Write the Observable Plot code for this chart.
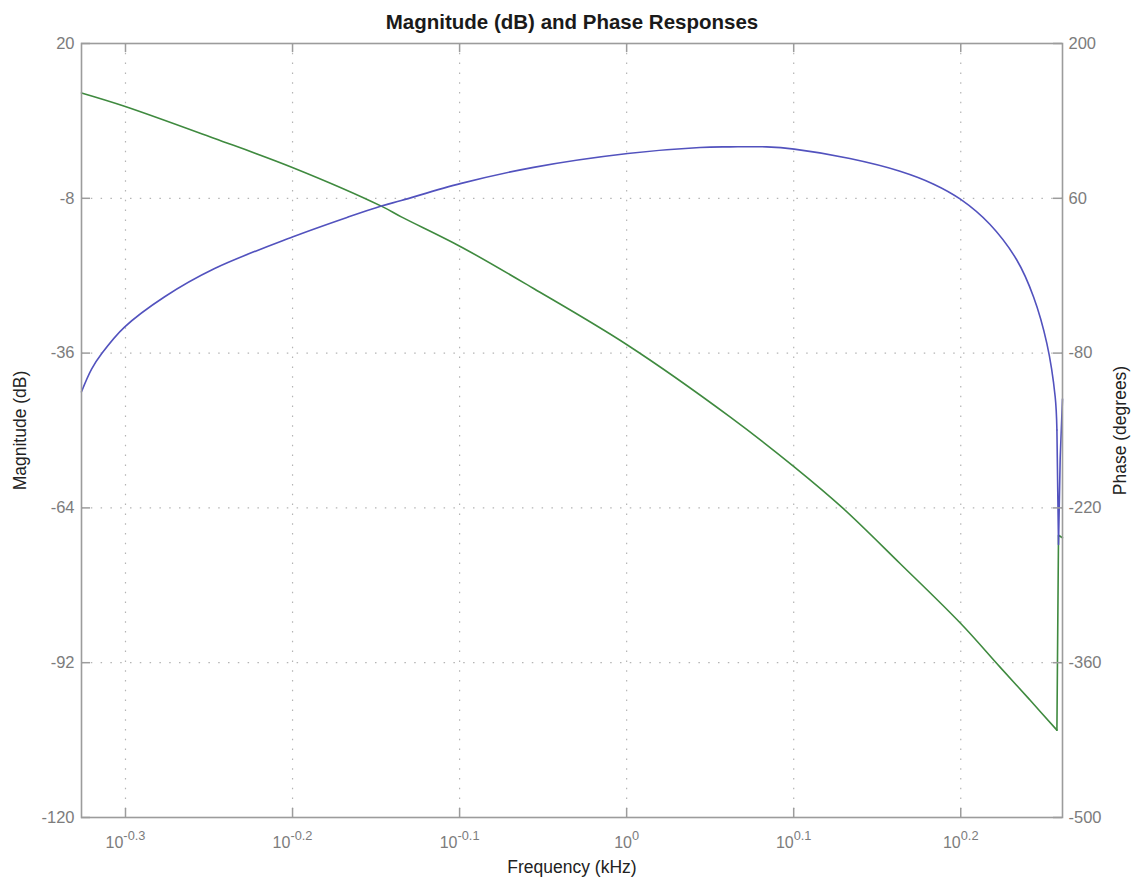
<!DOCTYPE html>
<html><head><meta charset="utf-8">
<script src="https://cdn.jsdelivr.net/npm/d3@7"></script>
<script src="https://cdn.jsdelivr.net/npm/@observablehq/plot@0.6"></script>
<style>body{margin:0;background:#fff;} #chart{width:1135px;height:882px;}</style>
</head><body><div id="chart"></div>
<script>
// ---- data ----
const freqMag = [0.4717, 0.4783, 0.4853, 0.5005, 0.5290, 0.5667, 0.6308, 0.6811, 0.7131, 0.7330, 0.7961, 0.8796, 1.0015, 1.1064, 1.1531, 1.2127, 1.2598, 1.3602, 1.4576, 1.5258, 1.5849, 1.6497, 1.7125, 1.7520, 1.7847, 1.8052, 1.8095, 1.8135, 1.8177, 1.8235];
const magDb   = [-43.0, -38.9, -36.0, -31.3, -25.8, -20.7, -15.0, -11.4, -9.4, -8.4, -5.3, -2.4, 0.1, 1.2, 1.3, 1.3, 0.9, -0.8, -3.1, -5.4, -8.2, -12.7, -19.2, -25.8, -34.3, -43.9, -49.9, -70.6, -55.0, -44.3];
const freqPhase = [0.4717, 0.5005, 0.5667, 0.6308, 0.7131, 0.7330, 0.7961, 0.8796, 1.0015, 1.1531, 1.2598, 1.3477, 1.4576, 1.5849, 1.6726, 1.7441, 1.8095, 1.8135, 1.8235];
const phaseDeg  = [155.3, 143.3, 114.1, 87.9, 52.9, 43.2, 16.0, -21.6, -72.9, -137.7, -182.9, -220.5, -270.3, -324.6, -363.8, -394.0, -421.0, -244.7, -247.0];
const notchFreq = 1.8095; // where the response jumps near the top of the band
const xTickExp = [-0.3, -0.2, -0.1, 0, 0.1, 0.2];
const magTicks = [-120, -92, -64, -36, -8, 20];
const phaseTicks = [-500, -360, -220, -80, 60, 200];
const xDomain = [0.4717, 1.8235];
const titleText = "Magnitude (dB) and Phase Responses";
const xLabel = "Frequency (kHz)";
const yLabelLeft = "Magnitude (dB)";
const yLabelRight = "Phase (degrees)";

// ---- derived tables ----
const magRows = freqMag.map((f, i) => ({f, v: magDb[i]}));
const phaseRows = freqPhase.map((f, i) => ({f, p: phaseDeg[i]}));
const magMin = magTicks[0], magMax = magTicks[magTicks.length - 1];
const phMin = phaseTicks[0], phMax = phaseTicks[phaseTicks.length - 1];
const phaseToLeft = p => magMin + (p - phMin) * (magMax - magMin) / (phMax - phMin);
const xTicks = xTickExp.map(e => Math.pow(10, e));

const W = 1135, H = 882, mL = 81, mR = 73, mT = 43, mB = 65;
const plotW = W - mL - mR, plotH = H - mT - mB;
const tickLen = 9;
const axisGray = "#9c9c9c";
const labelGray = "#7c7c7c";
const gridStyle = {stroke: "#b4b4b4", strokeOpacity: 1, strokeWidth: 1.2, strokeDasharray: "1.5,8.3"};
const blue = "#5252be";
const green = "#3f8a3f";
const lineW = 1.6;

const chart = Plot.plot({
  width: W, height: H,
  marginLeft: mL, marginRight: mR, marginTop: mT, marginBottom: mB,
  style: {fontFamily: "'Liberation Sans', Arial, Helvetica, sans-serif", fontSize: "16px", background: "#fff", overflow: "visible"},
  x: {type: "log", domain: xDomain},
  y: {domain: [magMin, magMax]},
  marks: [
    Plot.gridX(xTicks, gridStyle),
    Plot.gridY(magTicks.slice(1, -1), gridStyle),
    Plot.line(phaseRows.filter(d => d.f <= notchFreq), {x: "f", y: d => phaseToLeft(d.p), stroke: green, strokeWidth: lineW, curve: "catmull-rom"}),
    Plot.line(phaseRows.filter(d => d.f >= notchFreq), {x: "f", y: d => phaseToLeft(d.p), stroke: green, strokeWidth: lineW, curve: "linear"}),
    Plot.line(magRows.filter(d => d.f <= notchFreq), {x: "f", y: "v", stroke: blue, strokeWidth: lineW, curve: "catmull-rom"}),
    Plot.line(magRows.filter(d => d.f >= notchFreq), {x: "f", y: "v", stroke: blue, strokeWidth: lineW, curve: "linear"}),
    Plot.tickX(xTicks, {x: d => d, stroke: axisGray, strokeWidth: 1.5, insetTop: plotH - tickLen}),
    Plot.tickX(xTicks, {x: d => d, stroke: axisGray, strokeWidth: 1.5, insetBottom: plotH - tickLen}),
    Plot.tickY(magTicks, {y: d => d, stroke: axisGray, strokeWidth: 1.5, insetRight: plotW - tickLen}),
    Plot.tickY(magTicks, {y: d => d, stroke: axisGray, strokeWidth: 1.5, insetLeft: plotW - tickLen}),
    Plot.frame({stroke: axisGray, strokeWidth: 1.6}),
    Plot.axisX(xTicks, {anchor: "bottom", tickSize: 0, tickPadding: 19, label: null, color: labelGray, fontSize: 16,
      tickFormat: d => "10^" + String(xTickExp[xTicks.indexOf(d)])}),
    Plot.axisY(magTicks, {anchor: "left", tickSize: 0, tickPadding: 7, label: null, color: labelGray, fontSize: 16.5,
      tickFormat: d => String(d)}),
    Plot.axisY(magTicks, {anchor: "right", tickSize: 0, tickPadding: 6, label: null, color: labelGray, fontSize: 16.5,
      tickFormat: d => String(phaseTicks[magTicks.indexOf(d)])}),
    Plot.text([titleText], {text: d => d, frameAnchor: "top", lineAnchor: "middle", textAnchor: "middle", dy: -21, fontSize: 20.5, fontWeight: "bold", fill: "#1a1a1a"}),
    Plot.text([xLabel], {text: d => d, frameAnchor: "bottom", lineAnchor: "middle", textAnchor: "middle", dy: 49.5, fontSize: 17.5, fill: "#222"}),
    Plot.text([yLabelLeft], {text: d => d, frameAnchor: "left", lineAnchor: "middle", textAnchor: "middle", dx: -61, rotate: -90, fontSize: 17.5, fill: "#222"}),
    Plot.text([yLabelRight], {text: d => d, frameAnchor: "right", lineAnchor: "middle", textAnchor: "middle", dx: 58, rotate: -90, fontSize: 17.5, fill: "#222"})
  ]
});

// superscript exponents on x tick labels
d3.select(chart).selectAll('g[aria-label="x-axis tick label"] text').each(function() {
  const t = d3.select(this);
  const s = t.text();
  const parts = s.split("^");
  if (parts.length === 2) {
    t.text(parts[0]);
    t.append("tspan").attr("dy", "-0.65em").attr("font-size", "0.8em").text(parts[1]);
  }
});

document.getElementById("chart").appendChild(chart);
</script>
</body></html>
